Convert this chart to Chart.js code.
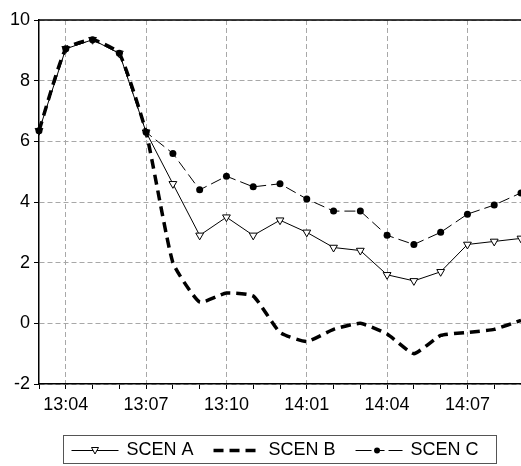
<!DOCTYPE html>
<html>
<head>
<meta charset="utf-8">
<script src="https://cdn.jsdelivr.net/npm/chart.js@4.4.1/dist/chart.umd.min.js"></script>
<style>
html, body { margin: 0; padding: 0; background: #fff; overflow: hidden; }
#wrap { width: 521px; height: 466px; }
</style>
</head>
<body>
<div id="wrap"><canvas id="chart" width="521" height="466"></canvas></div>
<script>
const times = ['13:03', '13:04', '13:05', '13:06', '13:07', '13:08', '13:09', '13:10', '13:11', '13:12',
               '14:01', '14:02', '14:03', '14:04', '14:05', '14:06', '14:07', '14:08', '14:09'];
const tickLabels = ['13:04', '13:07', '13:10', '14:01', '14:04', '14:07'];
const seriesNames = ['SCEN A', 'SCEN B', 'SCEN C'];

const scenA = [6.35, 9.05, 9.35, 8.9, 6.3, 4.6, 2.9, 3.5, 2.9, 3.4, 3.0, 2.5, 2.4, 1.6, 1.4, 1.7, 2.6, 2.7, 2.8];
const scenB = [6.35, 9.05, 9.35, 8.9, 6.3, 2.0, 0.7, 1.0, 0.9, -0.3, -0.6, -0.2, 0.0, -0.35, -1.0, -0.4, -0.3, -0.2, 0.1];
const scenC = [6.35, 9.05, 9.35, 8.9, 6.3, 5.6, 4.4, 4.85, 4.5, 4.6, 4.1, 3.7, 3.7, 2.9, 2.6, 3.0, 3.6, 3.9, 4.3];

const yMin = -2, yMax = 10, yStep = 2;

const FONT = '"Liberation Sans", Arial, sans-serif';
const GRID = '#a8a8a8';

// cadre du haut + légende encadrée
const boxLegend = {
    id: 'boxLegend',
    afterDraw(chart) {
        const ctx = chart.ctx;
        const area = chart.chartArea;
        ctx.save();

        // bordure du haut
        ctx.strokeStyle = '#000';
        ctx.lineWidth = 1.5;
        ctx.setLineDash([]);
        ctx.beginPath();
        ctx.moveTo(area.left, area.top);
        ctx.lineTo(area.right, area.top);
        ctx.stroke();

        ctx.font = '18px ' + FONT;
        const sampleW = 47, gapText = 8, gapItem = 20, padL = 8, padR = 18;
        const widths = seriesNames.map(n => ctx.measureText(n).width);
        let total = padL + padR;
        widths.forEach((w, i) => {
            total += sampleW + gapText + w + (i < widths.length - 1 ? gapItem : 0);
        });
        const boxLeft = Math.round((area.left + area.right) / 2 - total / 2) + 0.5;
        const boxTop = chart.height - 31 + 0.5;
        const boxH = 28;
        const cy = boxTop + boxH / 2 + 1;

        ctx.lineWidth = 1;
        ctx.strokeStyle = '#555';
        ctx.strokeRect(boxLeft, boxTop, Math.round(total), boxH);

        let x = boxLeft + padL;
        seriesNames.forEach((name, i) => {
            const ds = chart.data.datasets[i];
            ctx.strokeStyle = '#000';
            ctx.lineWidth = ds.borderWidth;
            ctx.setLineDash(i === 2 ? [16, 8, 5, 4] : (ds.borderDash || []));
            ctx.beginPath();
            ctx.moveTo(x, cy);
            ctx.lineTo(x + sampleW, cy);
            ctx.stroke();
            ctx.setLineDash([]);
            const mx = x + sampleW / 2;
            if (i === 0) {
                ctx.lineWidth = 1;
                ctx.fillStyle = '#fff';
                ctx.beginPath();
                ctx.moveTo(mx - 3.5, cy - 3);
                ctx.lineTo(mx + 3.5, cy - 3);
                ctx.lineTo(mx, cy + 3.5);
                ctx.closePath();
                ctx.fill();
                ctx.stroke();
            } else if (i === 2) {
                ctx.fillStyle = '#000';
                ctx.beginPath();
                ctx.arc(mx - 2, cy, 3, 0, Math.PI * 2);
                ctx.fill();
            }
            x += sampleW + gapText;
            ctx.fillStyle = '#000';
            ctx.textBaseline = 'middle';
            ctx.textAlign = 'left';
            ctx.fillText(name, x, cy);
            x += widths[i] + gapItem;
        });
        ctx.restore();
    }
};

const ctx = document.getElementById('chart').getContext('2d');
new Chart(ctx, {
    type: 'line',
    data: {
        labels: times,
        datasets: [
            {
                label: seriesNames[0],
                data: scenA,
                borderColor: '#000',
                borderWidth: 1,
                pointStyle: 'triangle',
                rotation: 180,
                pointRadius: 4.5,
                pointBackgroundColor: '#fff',
                pointBorderColor: '#000',
                pointBorderWidth: 1,
                tension: 0,
                order: 2
            },
            {
                label: seriesNames[1],
                data: scenB,
                borderColor: '#000',
                borderWidth: 3.5,
                borderDash: [10, 6],
                pointRadius: 0,
                tension: 0.15,
                order: 3
            },
            {
                label: seriesNames[2],
                data: scenC,
                borderColor: '#000',
                borderWidth: 1,
                borderDash: [11, 5],
                pointStyle: 'circle',
                pointRadius: 3.5,
                pointBackgroundColor: '#000',
                pointBorderColor: '#000',
                pointBorderWidth: 0,
                tension: 0,
                order: 1
            }
        ]
    },
    options: {
        responsive: false,
        animation: false,
        layout: { autoPadding: false, padding: { top: 20, right: 0, bottom: 42, left: 0 } },
        plugins: {
            legend: { display: false },
            tooltip: { enabled: false }
        },
        scales: {
            x: {
                type: 'category',
                offset: false,
                afterFit: function (scale) {
                    scale.height = 40;
                    scale.paddingLeft = 0;
                    scale.paddingRight = 0;
                },
                grid: {
                    color: c => (tickLabels.includes(times[c.index]) ? GRID : 'rgba(0,0,0,0)'),
                    tickColor: '#000',
                    tickLength: 5,
                    tickWidth: 1,
                    drawTicks: true
                },
                border: { color: '#000', width: 1.5, dash: [5, 3] },
                ticks: {
                    autoSkip: false,
                    maxRotation: 0,
                    minRotation: 0,
                    padding: 5,
                    color: '#000',
                    font: { family: FONT, size: 18 },
                    callback: function (value, index) {
                        const t = times[index];
                        return tickLabels.includes(t) ? t : '';
                    }
                }
            },
            y: {
                min: yMin,
                max: yMax,
                afterFit: function (scale) { scale.width = 39; },
                grid: {
                    color: GRID,
                    tickColor: '#000',
                    tickLength: 5,
                    tickWidth: 1
                },
                border: { color: '#000', width: 1.5, dash: [5, 3] },
                ticks: {
                    stepSize: yStep,
                    padding: 4,
                    color: '#000',
                    font: { family: FONT, size: 18 }
                }
            }
        }
    },
    plugins: [boxLegend]
});
</script>
</body>
</html>
